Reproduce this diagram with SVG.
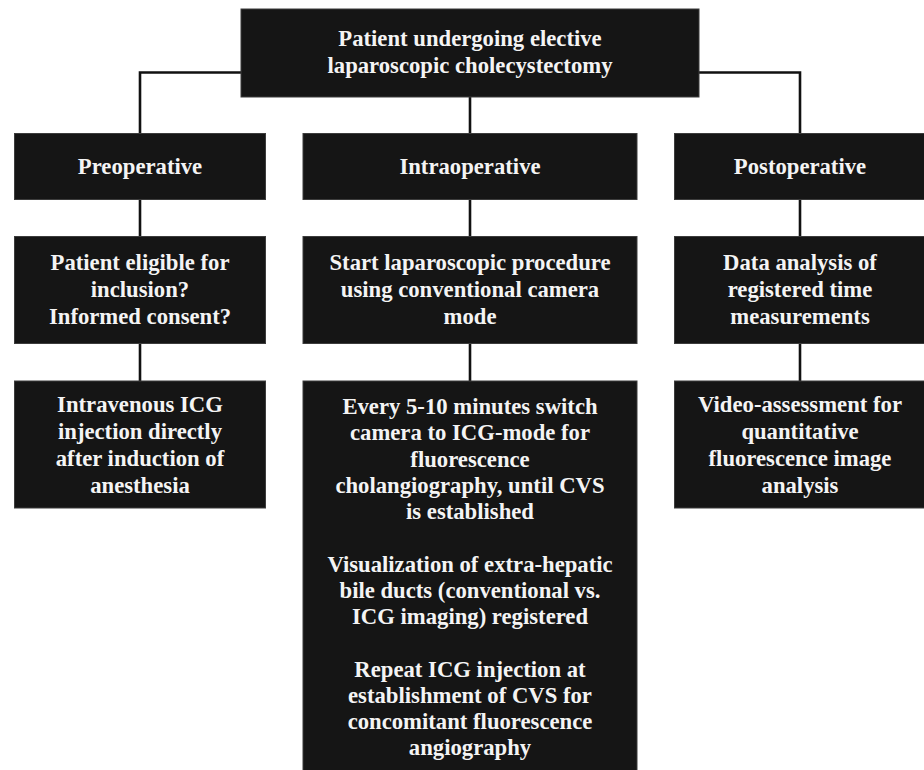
<svg xmlns="http://www.w3.org/2000/svg" width="924" height="770" viewBox="0 0 924 770">
<style>
.box{fill:#151515;stroke:#3c3c3c;stroke-width:1}
.t{font-family:"Liberation Serif","Times New Roman",serif;font-weight:bold;font-size:22.7px;fill:#f4f4f4;text-anchor:middle}
.c{fill:none;stroke:#111;stroke-width:2.6}
</style>
<rect width="924" height="770" fill="#fff"/>
<g id="connectors">
<polyline class="c" points="241,72.5 140,72.5 140,134"/>
<polyline class="c" points="699,72.5 800,72.5 800,134"/>
<line class="c" x1="470" y1="97" x2="470" y2="134"/>
<line class="c" x1="140" y1="199" x2="140" y2="237"/>
<line class="c" x1="470" y1="199" x2="470" y2="237"/>
<line class="c" x1="800" y1="199" x2="800" y2="237"/>
<line class="c" x1="140" y1="343" x2="140" y2="381"/>
<line class="c" x1="470" y1="343" x2="470" y2="381"/>
<line class="c" x1="800" y1="343" x2="800" y2="381"/>
</g>
<g id="root">
<rect class="box" x="241" y="9" width="458" height="88"/>
<text class="t" x="470" y="46">Patient undergoing elective</text>
<text class="t" x="470" y="73">laparoscopic cholecystectomy</text>
</g>
<g id="preop">
<rect class="box" x="14.5" y="133.5" width="251" height="66"/>
<text class="t" x="140" y="174">Preoperative</text>
</g>
<g id="intraop">
<rect class="box" x="303" y="133.5" width="334" height="66"/>
<text class="t" x="470" y="174">Intraoperative</text>
</g>
<g id="postop">
<rect class="box" x="674.5" y="133.5" width="250" height="66"/>
<text class="t" x="800" y="174">Postoperative</text>
</g>
<g id="eligible">
<rect class="box" x="14.5" y="236.5" width="251" height="107"/>
<text class="t" x="140" y="270">Patient eligible for</text>
<text class="t" x="140" y="297">inclusion?</text>
<text class="t" x="140" y="324">Informed consent?</text>
</g>
<g id="start">
<rect class="box" x="303" y="236.5" width="334" height="107"/>
<text class="t" x="470" y="270">Start laparoscopic procedure</text>
<text class="t" x="470" y="297">using conventional camera</text>
<text class="t" x="470" y="324">mode</text>
</g>
<g id="dataanalysis">
<rect class="box" x="674.5" y="236.5" width="250" height="107"/>
<text class="t" x="800" y="270">Data analysis of</text>
<text class="t" x="800" y="297">registered time</text>
<text class="t" x="800" y="324">measurements</text>
</g>
<g id="icg">
<rect class="box" x="14.5" y="381" width="251" height="127"/>
<text class="t" x="140" y="412">Intravenous ICG</text>
<text class="t" x="140" y="439">injection directly</text>
<text class="t" x="140" y="466">after induction of</text>
<text class="t" x="140" y="493">anesthesia</text>
</g>
<g id="switch">
<rect class="box" x="303" y="381" width="334" height="390"/>
<text class="t" x="470" y="414">Every 5-10 minutes switch</text>
<text class="t" x="470" y="440.2">camera to ICG-mode for</text>
<text class="t" x="470" y="466.5">fluorescence</text>
<text class="t" x="470" y="492.7">cholangiography, until CVS</text>
<text class="t" x="470" y="519">is established</text>
<text class="t" x="470" y="571.5">Visualization of extra-hepatic</text>
<text class="t" x="470" y="597.7">bile ducts (conventional vs.</text>
<text class="t" x="470" y="624">ICG imaging) registered</text>
<text class="t" x="470" y="676.5">Repeat ICG injection at</text>
<text class="t" x="470" y="702.7">establishment of CVS for</text>
<text class="t" x="470" y="729">concomitant fluorescence</text>
<text class="t" x="470" y="755.2">angiography</text>
</g>
<g id="video">
<rect class="box" x="674.5" y="381" width="250" height="127"/>
<text class="t" x="800" y="412">Video-assessment for</text>
<text class="t" x="800" y="439">quantitative</text>
<text class="t" x="800" y="466">fluorescence image</text>
<text class="t" x="800" y="493">analysis</text>
</g>
</svg>
